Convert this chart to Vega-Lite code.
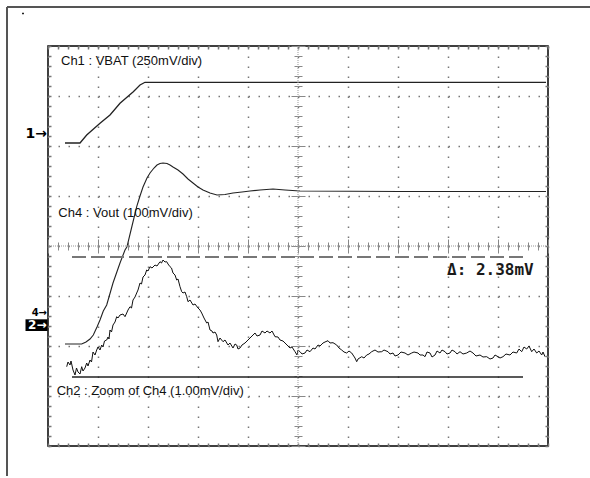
{
  "$schema": "https://vega.github.io/schema/vega-lite/v6.json",
  "width": 500,
  "height": 400,
  "autosize": {"type": "none"},
  "padding": {"left": 48, "top": 46, "right": 42, "bottom": 32},
  "background": "#ffffff",
  "config": {"view": {"stroke": "#000000", "strokeWidth": 1.5}},
  "datasets": {
    "one": [{}],
    "ch1": [
      {"t": 0.34, "v": 2.06}, {"t": 0.64, "v": 2.06}, {"t": 0.774, "v": 2.22}, {"t": 1.04, "v": 2.454},
      {"t": 1.24, "v": 2.62}, {"t": 1.44, "v": 2.854}, {"t": 1.706, "v": 3.086}, {"t": 1.84, "v": 3.22},
      {"t": 1.94, "v": 3.274}, {"t": 9.96, "v": 3.274}
    ],
    "ch4": [
      {"t": 0.34, "v": -1.96}, {"t": 0.674, "v": -1.96}, {"t": 0.76, "v": -1.92}, {"t": 0.84, "v": -1.86},
      {"t": 0.906, "v": -1.78}, {"t": 0.98, "v": -1.62}, {"t": 1.04, "v": -1.48}, {"t": 1.106, "v": -1.3},
      {"t": 1.174, "v": -1.18}, {"t": 1.3, "v": -0.74}, {"t": 1.44, "v": -0.34}, {"t": 1.54, "v": -0.08},
      {"t": 1.58, "v": -0.014}, {"t": 1.68, "v": 0.4}, {"t": 1.774, "v": 0.786}, {"t": 1.84, "v": 1.0},
      {"t": 1.9, "v": 1.18}, {"t": 1.98, "v": 1.36}, {"t": 2.04, "v": 1.46}, {"t": 2.12, "v": 1.56},
      {"t": 2.18, "v": 1.62}, {"t": 2.24, "v": 1.65}, {"t": 2.3, "v": 1.66}, {"t": 2.38, "v": 1.65},
      {"t": 2.44, "v": 1.62}, {"t": 2.5, "v": 1.58}, {"t": 2.6, "v": 1.52}, {"t": 2.7, "v": 1.44},
      {"t": 2.8, "v": 1.34}, {"t": 2.9, "v": 1.26}, {"t": 3.0, "v": 1.18}, {"t": 3.1, "v": 1.12},
      {"t": 3.24, "v": 1.06}, {"t": 3.38, "v": 1.02}, {"t": 3.54, "v": 1.03}, {"t": 3.7, "v": 1.06},
      {"t": 3.88, "v": 1.08}, {"t": 4.04, "v": 1.1}, {"t": 4.24, "v": 1.12}, {"t": 4.5, "v": 1.14},
      {"t": 4.74, "v": 1.12}, {"t": 5.04, "v": 1.1}, {"t": 7.04, "v": 1.09}, {"t": 9.96, "v": 1.09}
    ],
    "ch2": [
      {"t": 0.374, "v": -2.414}, {"t": 0.4, "v": -2.32}, {"t": 0.44, "v": -2.38}, {"t": 0.46, "v": -2.3},
      {"t": 0.5, "v": -2.48}, {"t": 0.54, "v": -2.58}, {"t": 0.57, "v": -2.44}, {"t": 0.6, "v": -2.52},
      {"t": 0.64, "v": -2.56}, {"t": 0.674, "v": -2.414}, {"t": 0.7, "v": -2.5}, {"t": 0.74, "v": -2.44},
      {"t": 0.774, "v": -2.34}, {"t": 0.8, "v": -2.4}, {"t": 0.84, "v": -2.28}, {"t": 0.87, "v": -2.32},
      {"t": 0.9, "v": -2.12}, {"t": 0.94, "v": -2.18}, {"t": 0.974, "v": -2.08}, {"t": 1.0, "v": -2.02},
      {"t": 1.04, "v": -2.08}, {"t": 1.074, "v": -1.98}, {"t": 1.1, "v": -2.02}, {"t": 1.13, "v": -1.9},
      {"t": 1.174, "v": -1.88}, {"t": 1.2, "v": -1.82}, {"t": 1.22, "v": -1.86}, {"t": 1.24, "v": -1.68},
      {"t": 1.27, "v": -1.72}, {"t": 1.3, "v": -1.58}, {"t": 1.34, "v": -1.52}, {"t": 1.374, "v": -1.414},
      {"t": 1.4, "v": -1.44}, {"t": 1.44, "v": -1.38}, {"t": 1.5, "v": -1.36}, {"t": 1.54, "v": -1.414},
      {"t": 1.574, "v": -1.34}, {"t": 1.6, "v": -1.28}, {"t": 1.64, "v": -1.214}, {"t": 1.67, "v": -1.24},
      {"t": 1.7, "v": -1.08}, {"t": 1.74, "v": -1.02}, {"t": 1.774, "v": -0.94}, {"t": 1.8, "v": -0.88},
      {"t": 1.84, "v": -0.74}, {"t": 1.87, "v": -0.76}, {"t": 1.9, "v": -0.62}, {"t": 1.94, "v": -0.58},
      {"t": 1.974, "v": -0.48}, {"t": 2.0, "v": -0.5}, {"t": 2.04, "v": -0.414}, {"t": 2.08, "v": -0.44},
      {"t": 2.14, "v": -0.38}, {"t": 2.18, "v": -0.4}, {"t": 2.24, "v": -0.314}, {"t": 2.27, "v": -0.34},
      {"t": 2.3, "v": -0.28}, {"t": 2.34, "v": -0.32}, {"t": 2.374, "v": -0.314}, {"t": 2.4, "v": -0.36},
      {"t": 2.44, "v": -0.414}, {"t": 2.47, "v": -0.44}, {"t": 2.5, "v": -0.54}, {"t": 2.54, "v": -0.58},
      {"t": 2.574, "v": -0.68}, {"t": 2.6, "v": -0.66}, {"t": 2.64, "v": -0.814}, {"t": 2.674, "v": -0.914},
      {"t": 2.7, "v": -0.94}, {"t": 2.74, "v": -0.92}, {"t": 2.774, "v": -1.014}, {"t": 2.8, "v": -1.114},
      {"t": 2.84, "v": -1.08}, {"t": 2.9, "v": -1.18}, {"t": 2.94, "v": -1.16}, {"t": 3.0, "v": -1.24},
      {"t": 3.04, "v": -1.28}, {"t": 3.074, "v": -1.34}, {"t": 3.12, "v": -1.44}, {"t": 3.174, "v": -1.54},
      {"t": 3.2, "v": -1.52}, {"t": 3.24, "v": -1.68}, {"t": 3.28, "v": -1.7}, {"t": 3.3, "v": -1.74},
      {"t": 3.34, "v": -1.72}, {"t": 3.374, "v": -1.78}, {"t": 3.4, "v": -1.914}, {"t": 3.44, "v": -1.84},
      {"t": 3.5, "v": -1.914}, {"t": 3.54, "v": -1.88}, {"t": 3.6, "v": -1.98}, {"t": 3.64, "v": -1.94},
      {"t": 3.7, "v": -2.04}, {"t": 3.74, "v": -1.96}, {"t": 3.774, "v": -1.98}, {"t": 3.8, "v": -2.06},
      {"t": 3.84, "v": -2.04}, {"t": 3.88, "v": -1.98}, {"t": 3.94, "v": -1.94}, {"t": 4.0, "v": -1.88},
      {"t": 4.04, "v": -1.84}, {"t": 4.08, "v": -1.8}, {"t": 4.14, "v": -1.74}, {"t": 4.18, "v": -1.8},
      {"t": 4.24, "v": -1.78}, {"t": 4.28, "v": -1.7}, {"t": 4.34, "v": -1.74}, {"t": 4.38, "v": -1.7},
      {"t": 4.44, "v": -1.74}, {"t": 4.48, "v": -1.7}, {"t": 4.54, "v": -1.814}, {"t": 4.6, "v": -1.82},
      {"t": 4.64, "v": -1.88}, {"t": 4.7, "v": -1.9}, {"t": 4.74, "v": -1.94}, {"t": 4.8, "v": -2.0},
      {"t": 4.84, "v": -2.04}, {"t": 4.88, "v": -2.02}, {"t": 4.94, "v": -2.114}, {"t": 4.98, "v": -2.18},
      {"t": 5.0, "v": -2.08}, {"t": 5.04, "v": -2.114}, {"t": 5.08, "v": -2.16}, {"t": 5.14, "v": -2.14},
      {"t": 5.18, "v": -2.08}, {"t": 5.24, "v": -2.114}, {"t": 5.3, "v": -2.04}, {"t": 5.34, "v": -2.06},
      {"t": 5.4, "v": -1.98}, {"t": 5.44, "v": -2.0}, {"t": 5.5, "v": -1.94}, {"t": 5.54, "v": -1.92},
      {"t": 5.6, "v": -1.894}, {"t": 5.64, "v": -1.94}, {"t": 5.7, "v": -1.934}, {"t": 5.774, "v": -1.98},
      {"t": 5.82, "v": -2.04}, {"t": 5.874, "v": -2.08}, {"t": 5.92, "v": -2.12}, {"t": 5.974, "v": -2.14},
      {"t": 6.02, "v": -2.1}, {"t": 6.074, "v": -2.14}, {"t": 6.14, "v": -2.24}, {"t": 6.174, "v": -2.314},
      {"t": 6.2, "v": -2.26}, {"t": 6.274, "v": -2.214}, {"t": 6.32, "v": -2.24}, {"t": 6.374, "v": -2.18},
      {"t": 6.42, "v": -2.16}, {"t": 6.474, "v": -2.114}, {"t": 6.54, "v": -2.08}, {"t": 6.6, "v": -2.12},
      {"t": 6.674, "v": -2.114}, {"t": 6.72, "v": -2.08}, {"t": 6.8, "v": -2.114}, {"t": 6.84, "v": -2.16},
      {"t": 6.9, "v": -2.14}, {"t": 6.94, "v": -2.2}, {"t": 7.0, "v": -2.18}, {"t": 7.06, "v": -2.12},
      {"t": 7.14, "v": -2.14}, {"t": 7.2, "v": -2.18}, {"t": 7.274, "v": -2.14}, {"t": 7.32, "v": -2.12},
      {"t": 7.4, "v": -2.14}, {"t": 7.44, "v": -2.18}, {"t": 7.5, "v": -2.18}, {"t": 7.54, "v": -2.214},
      {"t": 7.58, "v": -2.12}, {"t": 7.64, "v": -2.14}, {"t": 7.68, "v": -2.22}, {"t": 7.74, "v": -2.18},
      {"t": 7.78, "v": -2.1}, {"t": 7.84, "v": -2.14}, {"t": 7.88, "v": -2.08}, {"t": 7.94, "v": -2.114},
      {"t": 7.98, "v": -2.16}, {"t": 8.04, "v": -2.14}, {"t": 8.08, "v": -2.08}, {"t": 8.14, "v": -2.114},
      {"t": 8.18, "v": -2.16}, {"t": 8.24, "v": -2.114}, {"t": 8.3, "v": -2.16}, {"t": 8.374, "v": -2.14},
      {"t": 8.44, "v": -2.1}, {"t": 8.5, "v": -2.14}, {"t": 8.56, "v": -2.2}, {"t": 8.64, "v": -2.18},
      {"t": 8.7, "v": -2.22}, {"t": 8.774, "v": -2.214}, {"t": 8.84, "v": -2.26}, {"t": 8.9, "v": -2.24},
      {"t": 8.94, "v": -2.18}, {"t": 9.0, "v": -2.214}, {"t": 9.04, "v": -2.24}, {"t": 9.1, "v": -2.214},
      {"t": 9.16, "v": -2.16}, {"t": 9.24, "v": -2.18}, {"t": 9.3, "v": -2.12}, {"t": 9.374, "v": -2.14},
      {"t": 9.42, "v": -2.06}, {"t": 9.474, "v": -2.114}, {"t": 9.52, "v": -2.02}, {"t": 9.574, "v": -2.06},
      {"t": 9.62, "v": -2.0}, {"t": 9.674, "v": -2.114}, {"t": 9.72, "v": -2.06}, {"t": 9.774, "v": -2.14},
      {"t": 9.82, "v": -2.1}, {"t": 9.874, "v": -2.18}, {"t": 9.9, "v": -2.12}, {"t": 9.94, "v": -2.214}
    ],
    "cursor": [{"t1": 0.48, "t2": 9.5, "v": -0.22}],
    "ref2": [{"t1": 0.48, "t2": 9.5, "v": -2.62}],
    "frame": [
      {"t1": -0.82, "t2": 10.84, "v1": 4.78, "v2": 4.78},
      {"t1": -0.82, "t2": -0.82, "v1": 4.78, "v2": -4.6}
    ],
    "labels": [
      {"t": 0.26, "v": 3.62, "label": "Ch1 : VBAT (250mV/div)"},
      {"t": 0.207, "v": 0.58, "label": "Ch4 : Vout (100mV/div)"},
      {"t": 0.173, "v": -2.98, "label": "Ch2 : Zoom of Ch4 (1.00mV/div)"}
    ]
  },
  "resolve": {"axis": {"x": "independent", "y": "independent"}},
  "layer": [
    {
      "data": {"name": "ch1"},
      "mark": {"type": "line", "color": "#222222", "strokeWidth": 1.3},
      "encoding": {
        "x": {"field": "t", "type": "quantitative", "scale": {"domain": [0, 10], "nice": false, "zero": false},
          "axis": {"orient": "bottom", "values": [0,1,2,3,4,5,6,7,8,9,10], "grid": true, "gridDash": [1.5, 8.5], "gridColor": "#777777", "gridWidth": 1.5, "domain": false, "ticks": false, "labels": false, "title": null}},
        "y": {"field": "v", "type": "quantitative", "scale": {"domain": [-4, 4], "nice": false, "zero": false},
          "axis": {"orient": "left", "values": [-4,-3,-2,-1,0,1,2,3,4], "grid": true, "gridDash": [1.5, 8.5], "gridColor": "#777777", "gridWidth": 1.5, "domain": false, "ticks": false, "labels": false, "title": null}}
      }
    },
    {
      "data": {"name": "ch4"},
      "mark": {"type": "line", "color": "#222222", "strokeWidth": 1.1},
      "encoding": {
        "x": {"field": "t", "type": "quantitative",
          "axis": {"orient": "bottom", "offset": -204, "values": [0,0.2,0.4,0.6,0.8,1,1.2,1.4,1.6,1.8,2,2.2,2.4,2.6,2.8,3,3.2,3.4,3.6,3.8,4,4.2,4.4,4.6,4.8,5,5.2,5.4,5.6,5.8,6,6.2,6.4,6.6,6.8,7,7.2,7.4,7.6,7.8,8,8.2,8.4,8.6,8.8,9,9.2,9.4,9.6,9.8,10], "ticks": true, "tickSize": 8, "tickColor": "#888888", "tickWidth": 1, "grid": false, "domain": false, "labels": false, "title": null}},
        "y": {"field": "v", "type": "quantitative",
          "axis": {"orient": "left", "offset": -254, "values": [-4,-3.8,-3.6,-3.4,-3.2,-3,-2.8,-2.6,-2.4,-2.2,-2,-1.8,-1.6,-1.4,-1.2,-1,-0.8,-0.6,-0.4,-0.2,0,0.2,0.4,0.6,0.8,1,1.2,1.4,1.6,1.8,2,2.2,2.4,2.6,2.8,3,3.2,3.4,3.6,3.8,4], "ticks": true, "tickSize": 8, "tickColor": "#888888", "tickWidth": 1, "grid": false, "domain": false, "labels": false, "title": null}}
      }
    },
    {
      "data": {"name": "ch2"},
      "mark": {"type": "line", "color": "#111111", "strokeWidth": 1},
      "encoding": {
        "x": {"field": "t", "type": "quantitative",
          "axis": {"orient": "bottom", "offset": -207, "values": [0,1,2,3,4,5,6,7,8,9,10], "ticks": true, "tickSize": 14, "tickColor": "#888888", "tickWidth": 1, "grid": false, "domain": false, "labels": false, "title": null}},
        "y": {"field": "v", "type": "quantitative",
          "axis": {"orient": "left", "offset": -257, "values": [-4,-3,-2,-1,0,1,2,3,4], "ticks": true, "tickSize": 14, "tickColor": "#888888", "tickWidth": 1, "grid": false, "domain": false, "labels": false, "title": null}}
      }
    },
    {
      "data": {"name": "cursor"},
      "mark": {"type": "rule", "color": "#777777", "strokeWidth": 2, "strokeDash": [14, 5]},
      "encoding": {
        "x": {"field": "t1", "type": "quantitative",
          "axis": {"orient": "top", "offset": -3, "values": [0,0.2,0.4,0.6,0.8,1,1.2,1.4,1.6,1.8,2,2.2,2.4,2.6,2.8,3,3.2,3.4,3.6,3.8,4,4.2,4.4,4.6,4.8,5,5.2,5.4,5.6,5.8,6,6.2,6.4,6.6,6.8,7,7.2,7.4,7.6,7.8,8,8.2,8.4,8.6,8.8,9,9.2,9.4,9.6,9.8,10], "ticks": true, "tickSize": 3, "tickColor": "#777777", "tickWidth": 1.5, "grid": false, "domain": false, "labels": false, "title": null}},
        "x2": {"field": "t2"},
        "y": {"field": "v", "type": "quantitative",
          "axis": {"orient": "right", "offset": -3, "values": [-4,-3.8,-3.6,-3.4,-3.2,-3,-2.8,-2.6,-2.4,-2.2,-2,-1.8,-1.6,-1.4,-1.2,-1,-0.8,-0.6,-0.4,-0.2,0,0.2,0.4,0.6,0.8,1,1.2,1.4,1.6,1.8,2,2.2,2.4,2.6,2.8,3,3.2,3.4,3.6,3.8,4], "ticks": true, "tickSize": 3, "tickColor": "#777777", "tickWidth": 1.5, "grid": false, "domain": false, "labels": false, "title": null}}
      }
    },
    {
      "data": {"name": "ref2"},
      "mark": {"type": "rule", "color": "#222222", "strokeWidth": 1.5},
      "encoding": {
        "x": {"field": "t1", "type": "quantitative",
          "axis": {"orient": "bottom", "offset": -3, "values": [0,0.2,0.4,0.6,0.8,1,1.2,1.4,1.6,1.8,2,2.2,2.4,2.6,2.8,3,3.2,3.4,3.6,3.8,4,4.2,4.4,4.6,4.8,5,5.2,5.4,5.6,5.8,6,6.2,6.4,6.6,6.8,7,7.2,7.4,7.6,7.8,8,8.2,8.4,8.6,8.8,9,9.2,9.4,9.6,9.8,10], "ticks": true, "tickSize": 3, "tickColor": "#777777", "tickWidth": 1.5, "grid": false, "domain": false, "labels": false, "title": null}},
        "x2": {"field": "t2"},
        "y": {"field": "v", "type": "quantitative",
          "axis": {"orient": "left", "offset": -3, "values": [-4,-3.8,-3.6,-3.4,-3.2,-3,-2.8,-2.6,-2.4,-2.2,-2,-1.8,-1.6,-1.4,-1.2,-1,-0.8,-0.6,-0.4,-0.2,0,0.2,0.4,0.6,0.8,1,1.2,1.4,1.6,1.8,2,2.2,2.4,2.6,2.8,3,3.2,3.4,3.6,3.8,4], "ticks": true, "tickSize": 3, "tickColor": "#777777", "tickWidth": 1.5, "grid": false, "domain": false, "labels": false, "title": null}}
      }
    },
    {
      "data": {"name": "one"},
      "mark": {"type": "rule", "color": "#999999", "strokeWidth": 1, "strokeDash": [1, 1]},
      "encoding": {"x": {"datum": 5, "type": "quantitative", "axis": null}}
    },
    {
      "data": {"name": "one"},
      "mark": {"type": "rule", "color": "#999999", "strokeWidth": 1, "strokeDash": [1, 1]},
      "encoding": {"y": {"datum": 0, "type": "quantitative", "axis": null}}
    },
    {
      "data": {"name": "frame"},
      "mark": {"type": "rule", "color": "#555555", "strokeWidth": 2},
      "encoding": {
        "x": {"field": "t1", "type": "quantitative", "axis": null},
        "x2": {"field": "t2"},
        "y": {"field": "v1", "type": "quantitative", "axis": null},
        "y2": {"field": "v2"}
      }
    },
    {
      "data": {"name": "labels"},
      "mark": {"type": "text", "align": "left", "baseline": "alphabetic", "font": "Liberation Sans", "fontSize": 13, "color": "#111111"},
      "encoding": {
        "x": {"field": "t", "type": "quantitative", "axis": null},
        "y": {"field": "v", "type": "quantitative", "axis": null},
        "text": {"field": "label"}
      }
    },
    {
      "data": {"name": "one"},
      "mark": {"type": "text", "align": "left", "baseline": "alphabetic", "font": "DejaVu Sans Mono", "fontWeight": "bold", "fontSize": 16, "color": "#1a1a1a", "text": "Δ: 2.38mV"},
      "encoding": {
        "x": {"datum": 7.98, "type": "quantitative", "axis": null},
        "y": {"datum": -0.58, "type": "quantitative", "axis": null}
      }
    },
    {
      "data": {"name": "one"},
      "mark": {"type": "text", "align": "right", "baseline": "alphabetic", "font": "DejaVu Sans", "fontWeight": "bold", "fontSize": 14, "color": "#000000", "text": "1→"},
      "encoding": {
        "x": {"datum": -0.02, "type": "quantitative", "axis": null},
        "y": {"datum": 2.16, "type": "quantitative", "axis": null}
      }
    },
    {
      "data": {"name": "one"},
      "mark": {"type": "text", "align": "right", "baseline": "alphabetic", "font": "DejaVu Sans", "fontWeight": "bold", "fontSize": 10, "color": "#000000", "text": "4→"},
      "encoding": {
        "x": {"datum": -0.02, "type": "quantitative", "axis": null},
        "y": {"datum": -1.39, "type": "quantitative", "axis": null}
      }
    },
    {
      "data": {"name": "one"},
      "mark": {"type": "rect", "color": "#000000"},
      "encoding": {
        "x": {"datum": -0.45, "type": "quantitative", "axis": null},
        "x2": {"datum": -0.01},
        "y": {"datum": -1.466, "type": "quantitative", "axis": null},
        "y2": {"datum": -1.7}
      }
    },
    {
      "data": {"name": "one"},
      "mark": {"type": "text", "align": "right", "baseline": "alphabetic", "font": "DejaVu Sans", "fontWeight": "bold", "fontSize": 12, "color": "#ffffff", "text": "2→"},
      "encoding": {
        "x": {"datum": -0.03, "type": "quantitative", "axis": null},
        "y": {"datum": -1.665, "type": "quantitative", "axis": null}
      }
    },
    {
      "data": {"name": "one"},
      "mark": {"type": "square", "color": "#000000", "size": 3, "opacity": 1, "filled": true},
      "encoding": {
        "x": {"datum": -0.5, "type": "quantitative", "axis": null},
        "y": {"datum": 4.65, "type": "quantitative", "axis": null}
      }
    }
  ]
}
